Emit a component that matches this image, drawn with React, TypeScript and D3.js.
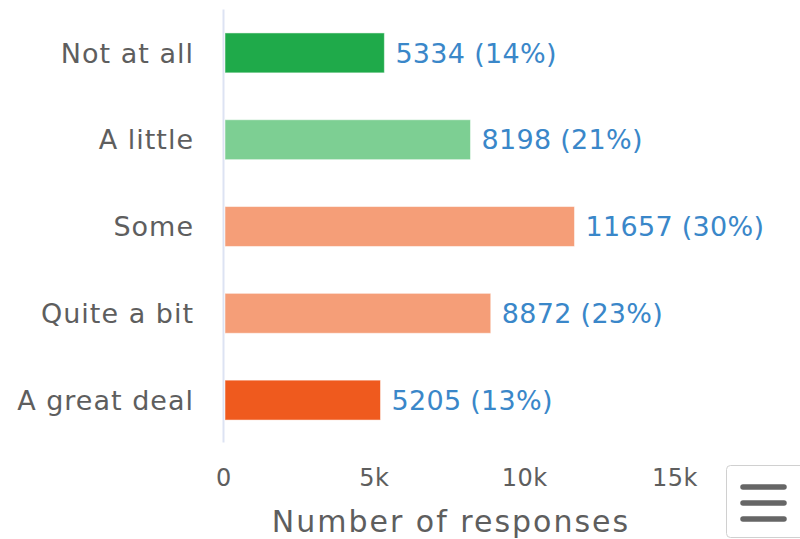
import React, { useEffect, useRef } from "react";
import * as d3 from "d3";

const categories = ["Not at all", "A little", "Some", "Quite a bit", "A great deal"];
const responses = [5334, 8198, 11657, 8872, 5205];
const percents = [14, 21, 30, 23, 13];
const barColors = ["#1faa4a", "#7dcf93", "#f59e78", "#f59e78", "#ef5a1e"];
const xTicks = [0, 5000, 10000, 15000];
const tickLabels = ["0", "5k", "10k", "15k"];

const FONT = "DejaVu Sans, sans-serif";

const App = () => {
  const svgRef = useRef<SVGSVGElement>(null);

  useEffect(() => {
    document.body.style.margin = "0";
    const svg = d3.select(svgRef.current);
    svg.selectAll("*").remove();

    const margin = { top: 9.5, left: 224, bottom: 443.5 };

    const xScale = d3.scaleLinear().domain([0, 15000]).range([margin.left, 675]);
    const yScale = d3
      .scaleBand()
      .domain(categories)
      .range([margin.top, margin.bottom])
      .paddingInner(0.54)
      .paddingOuter(0.27);

    // axis line
    svg
      .append("line")
      .attr("x1", xScale(0) - 0.5)
      .attr("x2", xScale(0) - 0.5)
      .attr("y1", margin.top)
      .attr("y2", margin.bottom - 1)
      .attr("stroke", "#dde3f3")
      .attr("stroke-width", 2);

    // bars
    svg
      .append("g")
      .selectAll("rect")
      .data(responses)
      .join("rect")
      .attr("x", xScale(0) + 1)
      .attr("y", (d, i) => yScale(categories[i]))
      .attr("width", (d) => xScale(d) - xScale(0) - 1)
      .attr("height", yScale.bandwidth())
      .attr("fill", (d, i) => barColors[i])
      .attr("stroke", "#ffffff")
      .attr("stroke-opacity", 0.5)
      .attr("stroke-width", 1);

    // value labels
    svg
      .append("g")
      .selectAll("text")
      .data(responses)
      .join("text")
      .attr("x", (d) => xScale(d) + 11)
      .attr("y", (d, i) => yScale(categories[i]) + yScale.bandwidth() / 2)
      .attr("dy", "0.36em")
      .attr("font-family", FONT)
      .attr("font-size", 27)
      .attr("letter-spacing", 0.3)
      .attr("fill", "#3a87c9")
      .text((d, i) => `${d} (${percents[i]}%)`);

    // category labels
    svg
      .append("g")
      .selectAll("text")
      .data(categories)
      .join("text")
      .attr("x", 194)
      .attr("y", (d) => yScale(d) + yScale.bandwidth() / 2)
      .attr("dy", "0.36em")
      .attr("text-anchor", "end")
      .attr("font-family", FONT)
      .attr("font-size", 27)
      .attr("letter-spacing", 1)
      .attr("fill", "#5e5e5e")
      .text((d) => d);

    // x tick labels
    svg
      .append("g")
      .selectAll("text")
      .data(xTicks)
      .join("text")
      .attr("x", (d) => xScale(d))
      .attr("y", 486)
      .attr("text-anchor", "middle")
      .attr("font-family", FONT)
      .attr("font-size", 24)
      .attr("letter-spacing", 0.5)
      .attr("fill", "#5e5e5e")
      .text((d, i) => tickLabels[i]);

    // axis title
    svg
      .append("text")
      .attr("x", 451)
      .attr("y", 532)
      .attr("text-anchor", "middle")
      .attr("font-family", FONT)
      .attr("font-size", 30)
      .attr("letter-spacing", 2)
      .attr("fill", "#5e5e5e")
      .text("Number of responses");

    // menu button
    const menu = svg.append("g");
    menu
      .append("rect")
      .attr("x", 726.5)
      .attr("y", 465.5)
      .attr("width", 78)
      .attr("height", 72)
      .attr("rx", 4)
      .attr("fill", "#ffffff")
      .attr("stroke", "#d0d0d0")
      .attr("stroke-width", 1);
    [487, 503, 519].forEach((y) => {
      menu
        .append("line")
        .attr("x1", 743)
        .attr("x2", 784)
        .attr("y1", y)
        .attr("y2", y)
        .attr("stroke", "#666666")
        .attr("stroke-width", 5.5)
        .attr("stroke-linecap", "round");
    });
  }, []);

  return (
    <div style={{ position: "absolute", left: 0, top: 0 }}>
      <svg ref={svgRef} width={800} height={539} style={{ display: "block" }}></svg>
    </div>
  );
};

export default App;
